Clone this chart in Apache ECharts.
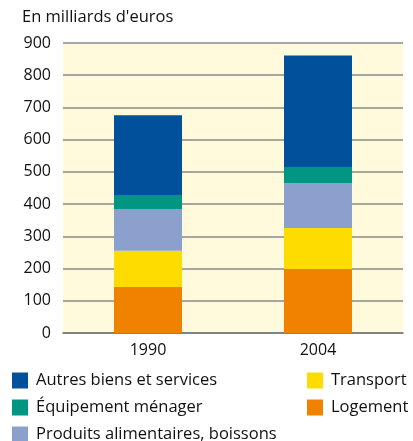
<!DOCTYPE html>
<html>
<head>
<meta charset="utf-8">
<script src="https://cdn.jsdelivr.net/npm/echarts@6/dist/echarts.min.js"></script>
<style>
  html, body { margin: 0; padding: 0; background: #fff; }
  #chart { width: 413px; height: 441px; }
</style>
</head>
<body>
<div id="chart"></div>
<script>
// years on the x axis
const years = ['1990', '2004'];

// values in milliards d'euros, bottom to top of each stack
const logement = [143, 199];
const transport = [112, 127];
const produits = [130, 139];
const equipement = [43, 50];
const autres = [248, 346];

const colors = {
  autres: '#00509b',
  equipement: '#009682',
  produits: '#8ca0cd',
  transport: '#ffdc00',
  logement: '#f08200',
};

const font = 'Open Sans';

const chart = echarts.init(document.getElementById('chart'));

const mkSeries = (name, data, color) => ({
  name: name,
  type: 'bar',
  stack: 'total',
  data: data,
  barWidth: 68,
  itemStyle: { color: color },
});

const legendBase = {
  orient: 'vertical',
  icon: 'rect',
  itemWidth: 16,
  itemHeight: 16,
  itemGap: 10,
  top: 372,
  height: 80,
  padding: 0,
  selectedMode: false,
  textStyle: { fontFamily: font, fontSize: 16.5, color: '#111', padding: [0, 0, 0, 3] },
};

chart.setOption({
  animation: false,
  title: {
    text: "En milliards d'euros",
    left: 22,
    top: 9,
    padding: 0,
    textStyle: { fontFamily: font, fontSize: 16.5, fontWeight: 'normal', color: '#111' },
  },
  legend: [
    Object.assign({}, legendBase, {
      left: 12,
      data: ['Autres biens et services', 'Équipement ménager', 'Produits alimentaires, boissons'],
    }),
    Object.assign({}, legendBase, {
      left: 307,
      data: ['Transport', 'Logement'],
    }),
  ],
  grid: {
    left: 63,
    right: 10,
    top: 43,
    bottom: 108,
    show: true,
    backgroundColor: '#fffadc',
    borderWidth: 0,
  },
  xAxis: {
    type: 'category',
    data: years,
    axisTick: { show: false },
    axisLine: { lineStyle: { color: '#777', width: 1.5 } },
    axisLabel: { fontFamily: font, fontSize: 16, color: '#111', margin: 9 },
  },
  yAxis: {
    type: 'value',
    min: 0,
    max: 900,
    interval: 100,
    axisLine: { show: false },
    axisTick: { show: false },
    axisLabel: { fontFamily: font, fontSize: 16, color: '#111', margin: 12 },
    splitLine: { lineStyle: { color: '#8a8a8a', width: 1.5 } },
  },
  series: [
    mkSeries('Logement', logement, colors.logement),
    mkSeries('Transport', transport, colors.transport),
    mkSeries('Produits alimentaires, boissons', produits, colors.produits),
    mkSeries('Équipement ménager', equipement, colors.equipement),
    mkSeries('Autres biens et services', autres, colors.autres),
  ],
});
</script>
</body>
</html>
